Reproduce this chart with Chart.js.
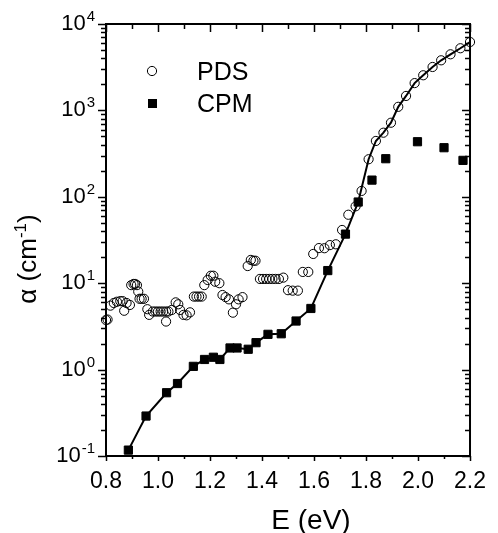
<!DOCTYPE html>
<html>
<head>
<meta charset="utf-8">
<script src="https://cdn.jsdelivr.net/npm/chart.js@4.4.1/dist/chart.umd.min.js"></script>
<style>
    html, body { margin: 0; padding: 0; background: #fff; }
    #wrap { width: 498px; height: 533px; }
</style>
</head>
<body>
<div id="wrap"><canvas id="absChart" width="498" height="533"></canvas></div>
<script>
// PDS spectrum (open circles)
const pdsE = [0.800, 0.806, 0.817, 0.830, 0.842, 0.855, 0.864, 0.870, 0.879, 0.892,
    0.897, 0.906, 0.912, 0.919, 0.924, 0.929, 0.937, 0.946, 0.959, 0.966,
    0.980, 0.990, 1.000, 1.010, 1.020, 1.031, 1.040, 1.031, 1.053, 1.068,
    1.078, 1.085, 1.098, 1.110, 1.123, 1.138, 1.148, 1.158, 1.168, 1.178,
    1.191, 1.203, 1.213, 1.220, 1.236, 1.248, 1.260, 1.273, 1.288, 1.300,
    1.310, 1.325, 1.345, 1.357, 1.367, 1.375, 1.392, 1.404, 1.416, 1.428,
    1.440, 1.452, 1.465, 1.482, 1.500, 1.518, 1.538, 1.557, 1.578, 1.597,
    1.619, 1.640, 1.661, 1.684, 1.708, 1.732, 1.760, 1.783, 1.810, 1.838,
    1.867, 1.896, 1.924, 1.954, 1.987, 2.020, 2.056, 2.089, 2.125, 2.163, 2.200];
const pdsAlpha = [3.75, 3.8, 5.5, 5.9, 6.1, 6.2, 6.2, 4.8, 5.9, 5.6,
    9.5, 9.8, 9.8, 9.5, 8.0, 6.6, 6.6, 6.6, 5.0, 4.3,
    4.7, 4.7, 4.7, 4.7, 4.7, 4.7, 4.7, 3.6, 4.9, 6.0,
    5.7, 4.9, 4.3, 4.25, 4.6, 7.0, 7.0, 7.0, 7.0, 9.5,
    10.9, 12.2, 12.2, 10.4, 10.0, 7.3, 6.9, 6.5, 4.56, 5.7,
    6.5, 6.9, 15.8, 18.6, 18.2, 18.2, 11.2, 11.2, 11.2, 11.2,
    11.2, 11.2, 11.2, 11.6, 8.3, 8.2, 8.2, 13.5, 13.5, 21.8,
    25.5, 25.4, 27.6, 28.2, 41.3, 62, 77.6, 117, 272, 443,
    552, 720, 1100, 1470, 2070, 2550, 3180, 3800, 4460, 5240, 6190];

// CPM spectrum (filled squares)
const cpmE = [0.886, 0.954, 1.033, 1.075, 1.136, 1.179, 1.213, 1.238, 1.277, 1.304,
    1.347, 1.377, 1.423, 1.474, 1.531, 1.588, 1.653, 1.721, 1.770, 1.823,
    1.876, 1.998, 2.100, 2.173];
const cpmAlpha = [0.117, 0.29, 0.54, 0.69, 1.09, 1.31, 1.39, 1.31, 1.78, 1.78,
    1.72, 2.05, 2.56, 2.6, 3.65, 5.1, 14, 37, 87, 156,
    276, 434, 370, 264];

// combined curve: CPM below the join, PDS above it
const joinE = 1.8;

const xTicks = [0.8, 1.0, 1.2, 1.4, 1.6, 1.8, 2.0, 2.2];
const yDecades = [0.1, 1, 10, 100, 1000, 10000];
const yExponents = ['-1', '0', '1', '2', '3', '4'];

const FONT = "'Liberation Sans', Arial, sans-serif";

function toPoints(xs, ys) {
    return xs.map((x, i) => ({ x: x, y: ys[i] }));
}

const curve = toPoints(cpmE, cpmAlpha).filter(p => p.x < joinE)
    .concat(toPoints(pdsE, pdsAlpha).filter(p => p.x >= joinE));

// frame, ticks, superscript labels, titles, legend
const decorations = {
    id: 'decorations',
    afterDraw(chart) {
        const ctx = chart.ctx;
        const a = chart.chartArea;
        const xs = chart.scales.x;
        const ys = chart.scales.y;
        ctx.save();
        ctx.strokeStyle = '#000';
        ctx.fillStyle = '#000';
        ctx.lineWidth = 2;
        ctx.strokeRect(a.left, a.top, a.right - a.left, a.bottom - a.top);

        ctx.lineWidth = 1.5;
        ctx.beginPath();
        for (let i = 8; i <= 22; i++) {
            const px = Math.round(xs.getPixelForValue(i / 10)) + 0.5;
            const major = i % 2 === 0;
            ctx.moveTo(px, a.bottom);
            ctx.lineTo(px, a.bottom + (major ? 5 : 3));
            ctx.moveTo(px, a.top);
            ctx.lineTo(px, a.top + (major ? 8 : 5));
        }
        for (let d = -1; d <= 3; d++) {
            for (let m = 1; m <= 10; m++) {
                const v = m * Math.pow(10, d);
                const py = Math.round(ys.getPixelForValue(v)) + 0.5;
                const len = (m === 1 || m === 10) ? 8 : 5;
                ctx.moveTo(a.left, py);
                ctx.lineTo(a.left - len, py);
                ctx.moveTo(a.right, py);
                ctx.lineTo(a.right - len, py);
            }
        }
        ctx.stroke();

        // y tick labels 10^n
        yDecades.forEach((v, i) => {
            const py = ys.getPixelForValue(v);
            ctx.font = '15px ' + FONT;
            const ew = ctx.measureText(yExponents[i]).width;
            const right = 95;
            ctx.textAlign = 'left';
            ctx.textBaseline = 'alphabetic';
            ctx.fillText(yExponents[i], right - ew, py - 3);
            ctx.font = '22px ' + FONT;
            ctx.textAlign = 'right';
            ctx.fillText('10', right - ew - 1, py + 6);
        });

        // x title
        ctx.font = '28px ' + FONT;
        ctx.textAlign = 'center';
        ctx.textBaseline = 'alphabetic';
        ctx.fillText('E (eV)', 311, 529);

        // y title, rotated
        ctx.save();
        ctx.translate(36, 259);
        ctx.rotate(-Math.PI / 2);
        ctx.textAlign = 'left';
        const big = '26px ' + FONT, small = '17px ' + FONT;
        ctx.font = big;
        const w1 = ctx.measureText('\u03b1 (cm').width;
        const w3 = ctx.measureText(')').width;
        ctx.font = small;
        const w2 = ctx.measureText('-1').width;
        let sx = -(w1 + w2 + w3) / 2;
        ctx.font = big;
        ctx.fillText('\u03b1 (cm', sx, 0);
        ctx.font = small;
        ctx.fillText('-1', sx + w1, -10);
        ctx.font = big;
        ctx.fillText(')', sx + w1 + w2, 0);
        ctx.restore();

        // legend
        ctx.lineWidth = 1;
        ctx.beginPath();
        ctx.arc(152, 71, 4.6, 0, Math.PI * 2);
        ctx.stroke();
        ctx.fillRect(148, 99, 9, 9);
        ctx.font = '25px ' + FONT;
        ctx.textAlign = 'left';
        ctx.fillText('PDS', 197, 80);
        ctx.fillText('CPM', 197, 112);
        ctx.restore();
    }
};

const ctx = document.getElementById('absChart').getContext('2d');

new Chart(ctx, {
    type: 'scatter',
    data: {
        datasets: [{
            label: 'PDS',
            data: toPoints(pdsE, pdsAlpha),
            pointStyle: 'circle',
            pointRadius: 4.6,
            pointBorderWidth: 1,
            pointBorderColor: '#000',
            pointBackgroundColor: 'rgba(0,0,0,0)',
            clip: false,
            order: 0
        }, {
            label: 'CPM',
            data: toPoints(cpmE, cpmAlpha),
            pointStyle: 'rect',
            pointRadius: 5.8,
            pointBorderWidth: 1,
            pointBorderColor: '#000',
            pointBackgroundColor: '#000',
            clip: false,
            order: 1
        }, {
            label: 'curve',
            data: curve,
            showLine: true,
            borderColor: '#000',
            borderWidth: 2,
            pointRadius: 0,
            tension: 0,
            order: 2
        }]
    },
    options: {
        responsive: false,
        animation: false,
        layout: { padding: { left: 0, top: 24, right: 16, bottom: 0 } },
        plugins: {
            legend: { display: false },
            tooltip: { enabled: false }
        },
        scales: {
            x: {
                type: 'linear',
                min: 0.8,
                max: 2.2,
                afterFit: scale => { scale.height = 77; },
                afterBuildTicks: scale => { scale.ticks = xTicks.map(v => ({ value: v })); },
                grid: { display: false, drawTicks: false },
                border: { display: false },
                ticks: {
                    padding: 12,
                    color: '#000',
                    font: { family: FONT, size: 23 },
                    maxRotation: 0,
                    callback: v => v.toFixed(1)
                }
            },
            y: {
                type: 'logarithmic',
                min: 0.1,
                max: 10000,
                afterFit: scale => { scale.width = 106; },
                grid: { display: false, drawTicks: false },
                border: { display: false },
                ticks: { display: false }
            }
        }
    },
    plugins: [decorations]
});
</script>
</body>
</html>
